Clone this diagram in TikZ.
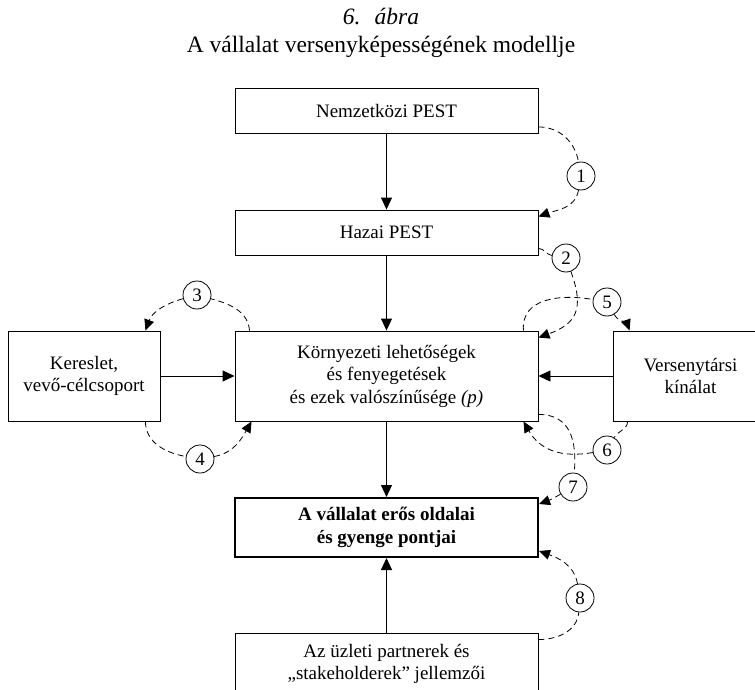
\documentclass[tikz,border=0pt]{standalone}
\usepackage{fontspec}
\setmainfont{Liberation Serif}
\usetikzlibrary{arrows.meta}
\newcommand{\figfont}{\fontsize{19}{22.5}\selectfont}
\begin{document}
\begin{tikzpicture}[x=1pt,y=-1pt,
  box/.style={draw, line width=0.9pt, minimum width=303pt, align=center, inner sep=0pt, font=\figfont},
  num/.style={circle, draw, line width=0.8pt, minimum size=28pt, inner sep=0pt, font=\figfont},
  arr/.style={line width=0.9pt, -{Triangle[length=12pt,width=11pt]}},
  loopline/.style={line width=0.8pt, dash pattern=on 6pt off 4pt},
  dtip/.style={-{Triangle[length=11pt,width=10pt]}},
  titletext/.style={inner sep=0pt, anchor=base, font=\fontsize{23.5}{28}\selectfont}]
\useasboundingbox (0,0) rectangle (755,690);
% title
\node[titletext] (t1) at (381,25) {\textit{6.\hspace{0.6em}ábra}};
\node[titletext] (t2) at (381,53) {A vállalat versenyképességének modellje};
% boxes
\node[box, minimum height=45pt] (nemz) at (386.5,111) {Nemzetközi PEST};
\node[box, minimum height=45pt] (hazai) at (386.5,232.5) {Hazai PEST};
\node[box, minimum height=90pt] (korny) at (386.5,376) {Környezeti lehetőségek\\és fenyegetések\\és ezek valószínűsége \textit{(p)}};
\node[box, minimum height=90pt, minimum width=152pt] (ker) at (84,376) {Kereslet,\\vevő-célcsoport};
\node[box, minimum height=90pt, minimum width=155pt] (vers) at (690.5,376) {Versenytársi\\kínálat};
\node[box, minimum height=59pt, line width=2pt, font=\figfont\bfseries] (bold) at (386.5,527.5) {A vállalat erős oldalai\\és gyenge pontjai};
\node[box, minimum height=62pt] (bottom) at (386.5,664) {Az üzleti partnerek és\\„stakeholderek” jellemzői};
% numbered circles
\node[num, fill=white] (c1) at (581,176) {1};
\node[num, fill=white] (c2) at (566,258) {2};
\node[num, fill=white] (c3) at (197,295) {3};
\node[num, fill=white] (c4) at (200,459) {4};
\node[num, fill=white] (c5) at (607,302) {5};
\node[num, fill=white] (c6) at (607,450) {6};
\node[num, fill=white] (c7) at (573,487) {7};
\node[num, fill=white] (c8) at (580,598) {8};
% solid arrows
\draw[arr] (nemz) -- (hazai);
\draw[arr] (hazai) -- (korny);
\draw[arr] (ker) -- (korny);
\draw[arr] (vers) -- (korny);
\draw[arr] (korny) -- (bold);
\draw[arr] (bottom) -- (bold);
% dashed loops
\draw[loopline] ([yshift=7pt]nemz.south east) to[out=0,in=100] (c1);
\draw[loopline,dtip] (c1) to[out=-100,in=20] ([yshift=-7pt]hazai.north east);
\draw[loopline] ([yshift=7pt]hazai.south east) to[out=0,in=170] (c2);
\draw[loopline,dtip] (c2) to[out=-70,in=20,looseness=1.4] ([yshift=-7pt]korny.north east);
\draw[loopline] ([xshift=15pt]korny.north west) to[out=95,in=-15] (c3);
\draw[loopline,dtip] (c3) to[out=195,in=70] ([xshift=-15pt]ker.north east);
\draw[loopline] ([xshift=-15pt]ker.south east) to[out=-90,in=170] (c4);
\draw[loopline,dtip] (c4) to[out=10,in=-120] ([xshift=17pt]korny.south west);
\draw[loopline] ([xshift=-15pt]korny.north east) to[out=95,in=170,looseness=1.1] (c5);
\draw[loopline,dtip] (c5) to[out=-60,in=110] ([xshift=17pt]vers.north west);
\draw[loopline] ([xshift=15pt]vers.south west) to[out=-90,in=60] (c6);
\draw[loopline,dtip] (c6) to[out=190,in=-60,looseness=1.1] ([xshift=-15pt]korny.south east);
\draw[loopline] ([yshift=7pt]korny.south east) to[out=0,in=85,looseness=1.2] (c7);
\draw[loopline,dtip] (c7) to[out=-150,in=20] ([yshift=-7pt]bold.north east);
\draw[loopline] ([yshift=-7pt]bottom.north east) to[out=0,in=-95] (c8);
\draw[loopline,dtip] (c8) to[out=100,in=-20] ([yshift=7pt]bold.south east);
\end{tikzpicture}
\end{document}
